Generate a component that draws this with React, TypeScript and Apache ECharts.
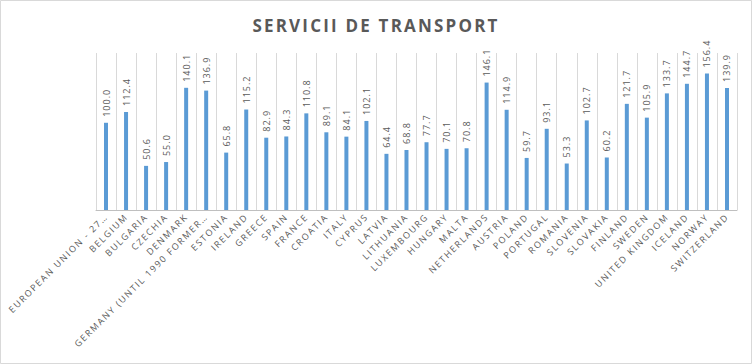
import React, { useEffect, useRef } from "react";
import * as echarts from "echarts";

const categories: string[] = [
  "EUROPEAN UNION - 27…",
  "BELGIUM",
  "BULGARIA",
  "CZECHIA",
  "DENMARK",
  "GERMANY (UNTIL 1990 FORMER…",
  "ESTONIA",
  "IRELAND",
  "GREECE",
  "SPAIN",
  "FRANCE",
  "CROATIA",
  "ITALY",
  "CYPRUS",
  "LATVIA",
  "LITHUANIA",
  "LUXEMBOURG",
  "HUNGARY",
  "MALTA",
  "NETHERLANDS",
  "AUSTRIA",
  "POLAND",
  "PORTUGAL",
  "ROMANIA",
  "SLOVENIA",
  "SLOVAKIA",
  "FINLAND",
  "SWEDEN",
  "UNITED KINGDOM",
  "ICELAND",
  "NORWAY",
  "SWITZERLAND",
];

const values: number[] = [
  100.0, 112.4, 50.6, 55.0, 140.1, 136.9, 65.8, 115.2, 82.9, 84.3, 110.8, 89.1,
  84.1, 102.1, 64.4, 68.8, 77.7, 70.1, 70.8, 146.1, 114.9, 59.7, 93.1, 53.3,
  102.7, 60.2, 121.7, 105.9, 133.7, 144.7, 156.4, 139.9,
];

const title = "SERVICII DE TRANSPORT";

function applySpacing(root: HTMLElement) {
  const texts = root.querySelectorAll("text");
  texts.forEach((t) => {
    const s = (t.textContent || "").trim();
    if (s === title) {
      t.style.letterSpacing = "2.2px";
    } else if (/^\d+\.\d$/.test(s)) {
      t.style.letterSpacing = "1px";
    } else if (categories.indexOf(s) >= 0) {
      t.style.letterSpacing = "1.6px";
    }
  });
}

export default function App() {
  const ref = useRef<HTMLDivElement>(null);
  useEffect(() => {
    if (!ref.current) return;
    document.body.style.margin = "0";
    const el = ref.current;
    const chart = echarts.init(el, undefined, { renderer: "svg" });
    chart.on("finished", () => applySpacing(el));
    chart.setOption({
      animation: false,
      backgroundColor: "#ffffff",
      title: {
        text: title,
        left: "center",
        top: 12,
        textStyle: {
          fontFamily: "Open Sans",
          fontSize: 17,
          fontWeight: "bold",
          color: "#595959",
        },
      },
      graphic: [
        {
          type: "rect",
          shape: { x: 0.5, y: 0.5, width: 751, height: 363 },
          style: { fill: "none", stroke: "#d9d9d9", lineWidth: 1 },
          silent: true,
        },
      ],
      grid: { left: 96, right: 15, top: 53, bottom: 154 },
      xAxis: {
        type: "category",
        data: categories,
        boundaryGap: true,
        axisLine: { show: true, lineStyle: { color: "#bfbfbf" } },
        axisTick: { show: false },
        splitLine: {
          show: true,
          interval: 0,
          lineStyle: { color: "#d9d9d9", width: 1 },
        },
        axisLabel: {
          interval: 0,
          rotate: 45,
          margin: 5,
          color: "#595959",
          fontFamily: "Open Sans",
          fontSize: 9,
        },
      },
      yAxis: {
        type: "value",
        min: 0,
        max: 180,
        show: false,
        splitLine: { show: false },
      },
      series: [
        {
          type: "bar",
          data: values,
          barWidth: 4,
          itemStyle: { color: "#5b9bd5" },
          label: {
            show: true,
            position: "top",
            rotate: 90,
            align: "left",
            verticalAlign: "middle",
            distance: 6,
            color: "#595959",
            fontFamily: "Open Sans",
            fontSize: 9,
            formatter: (p: any) => Number(p.value).toFixed(1),
          },
        },
      ],
    });
    applySpacing(el);
    const t1 = window.setTimeout(() => applySpacing(el), 50);
    const t2 = window.setTimeout(() => applySpacing(el), 300);
    return () => {
      window.clearTimeout(t1);
      window.clearTimeout(t2);
      chart.dispose();
    };
  }, []);
  return (
    <div
      ref={ref}
      style={{ position: "absolute", left: 0, top: 0, width: 752, height: 364 }}
    />
  );
}
